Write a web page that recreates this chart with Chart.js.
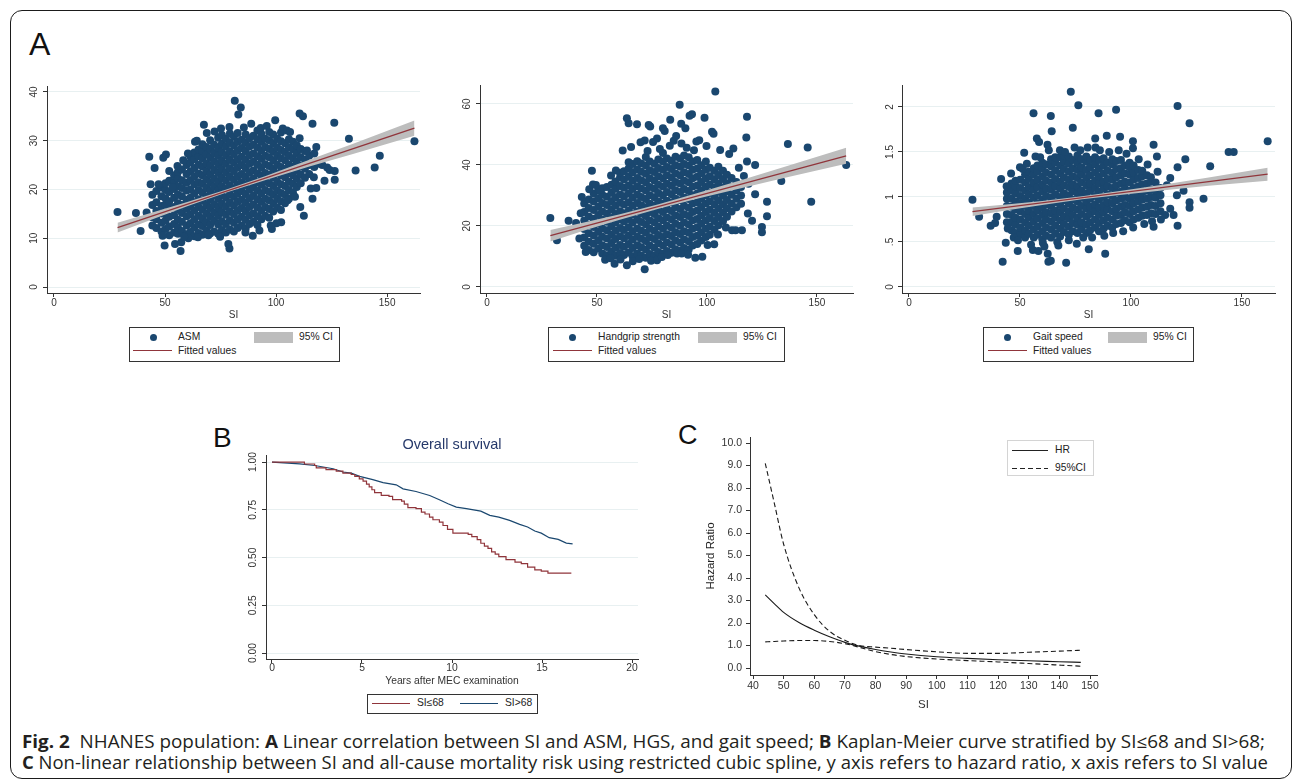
<!DOCTYPE html>
<html>
<head>
<meta charset="utf-8">
<script src="https://cdn.jsdelivr.net/npm/chart.js@4.4.1/dist/chart.umd.min.js"></script>
<style>
  html, body { margin: 0; padding: 0; background: #fff; }
  body { width: 1293px; height: 780px; position: relative; overflow: hidden;
         font-family: "Liberation Sans", Arial, sans-serif; color: #222; }
  #frame { position: absolute; left: 10px; top: 10px; width: 1282px; height: 769px;
           border: 1.5px solid #1b1b1b; border-radius: 12px; box-sizing: border-box; }
  canvas { position: absolute; }
  .tag { position: absolute; line-height: 1; color: #111; }
  .leg { position: absolute; box-sizing: border-box; border: 1px solid #333; background: #fff;
         font-size: 10.3px; color: #222; }
  .leg span { position: absolute; white-space: nowrap; line-height: 12px; }
  .leg i { position: absolute; display: block; }
  .cap { position: absolute; left: 22px; font-family: "Open Sans", sans-serif; font-size: 17.5px;
         line-height: 21px; white-space: nowrap; transform-origin: 0 0; color: #231f20; }
  #kmTitle { position: absolute; left: 352px; top: 435px; width: 200px; text-align: center;
             font-size: 14.5px; line-height: 18px; color: #26396a; }
</style>
</head>
<body>
<div id="frame"></div>

<div class="tag" style="left:29px;top:28px;font-size:32px">A</div>
<div class="tag" style="left:213px;top:424px;font-size:28px">B</div>
<div class="tag" style="left:678px;top:422px;font-size:27px">C</div>

<canvas id="asm"></canvas>
<canvas id="hgs"></canvas>
<canvas id="gait"></canvas>
<canvas id="km"></canvas>
<canvas id="rcs"></canvas>

<div id="kmTitle">Overall survival</div>

<div class="leg" style="left:129px;top:327px;width:211px;height:35px">
  <i style="left:19.5px;top:5.5px;width:7px;height:7px;border-radius:50%;background:#1a476f"></i>
  <span style="left:48px;top:3px">ASM</span>
  <i style="left:124px;top:4px;width:39px;height:11px;background:#bdbdbd"></i>
  <span style="left:169px;top:3px">95% CI</span>
  <i style="left:3px;top:22px;width:39px;height:1.4px;background:#90353b"></i>
  <span style="left:48px;top:17px">Fitted values</span>
</div>
<div class="leg" style="left:548px;top:327px;width:237px;height:35px">
  <i style="left:19.5px;top:5.5px;width:7px;height:7px;border-radius:50%;background:#1a476f"></i>
  <span style="left:49px;top:3px">Handgrip strength</span>
  <i style="left:149px;top:4px;width:39px;height:11px;background:#bdbdbd"></i>
  <span style="left:194px;top:3px">95% CI</span>
  <i style="left:4px;top:22px;width:39px;height:1.4px;background:#90353b"></i>
  <span style="left:49px;top:17px">Fitted values</span>
</div>
<div class="leg" style="left:983px;top:327px;width:211px;height:35px">
  <i style="left:19.5px;top:5.5px;width:7px;height:7px;border-radius:50%;background:#1a476f"></i>
  <span style="left:49px;top:3px">Gait speed</span>
  <i style="left:124px;top:4px;width:39px;height:11px;background:#bdbdbd"></i>
  <span style="left:169px;top:3px">95% CI</span>
  <i style="left:4px;top:22px;width:39px;height:1.4px;background:#90353b"></i>
  <span style="left:49px;top:17px">Fitted values</span>
</div>
<div class="leg" style="left:367px;top:694px;width:171px;height:20px">
  <i style="left:4px;top:8px;width:38px;height:1.3px;background:#90353b"></i>
  <span style="left:49px;top:2px">SI≤68</span>
  <i style="left:92px;top:8px;width:38px;height:1.3px;background:#1a476f"></i>
  <span style="left:137px;top:2px">SI&gt;68</span>
</div>
<div class="leg" style="left:1007px;top:440px;width:87px;height:36px;border-color:#d4d4d4">
  <i style="left:4px;top:8.5px;width:36px;height:1.2px;background:#222"></i>
  <span style="left:47px;top:3px">HR</span>
  <i style="left:4px;top:26.5px;width:36px;height:1.2px;background:repeating-linear-gradient(90deg,#222 0 5px,transparent 5px 8px)"></i>
  <span style="left:47px;top:21px">95%CI</span>
</div>

<div class="cap" data-w="1243" style="top:731px"><b>Fig. 2</b>&nbsp; NHANES population: <b>A</b> Linear correlation between SI and ASM, HGS, and gait speed; <b>B</b> Kaplan-Meier curve stratified by SI≤68 and SI&gt;68;</div>
<div class="cap" data-w="1246" style="top:752px"><b>C</b> Non-linear relationship between SI and all-cause mortality risk using restricted cubic spline, y axis refers to hazard ratio, x axis refers to SI value</div>

<script>
// ---------- data ----------
// Panel A1: SI vs ASM (columns of the dense cloud: [SI, [ASM...]]) + scattered points
const asmCloud = [
  [44.3,[12.6,14.3,16.8,18.9]],
  [46.1,[12.1,13.9,15.6,17.4,19.7]],
  [48.4,[11.4,13.2,15.1,16.6,18.6,20.4]],
  [50.2,[11.9,13.6,14.9,16.9,18.2,19.9,21.3]],
  [51.9,[10.6,12.4,14.4,16.1,17.6,19.5,21.8]],
  [54.1,[11.2,12.9,14.7,16.4,18.3,20.1,21.4,22.9]],
  [55.8,[10.9,12.2,13.8,15.9,17.2,18.9,20.6,22.3,23.6]],
  [57.6,[11.5,13.4,15.2,16.8,18.6,20.3,21.9,24.1]],
  [59.7,[10.8,12.6,14.5,16.1,17.9,19.8,21.4,23.2,25.0]],
  [61.4,[11.3,13.1,14.9,16.6,18.3,20.0,21.9,23.7,25.6,26.8]],
  [63.2,[10.4,12.2,13.9,15.7,17.4,19.2,21.1,22.7,24.4,26.2,27.6]],
  [65.1,[11.1,12.8,14.6,16.4,18.0,19.9,21.5,23.3,25.1,26.8,28.2]],
  [66.8,[10.7,12.5,14.1,15.9,17.7,19.4,21.2,22.9,24.7,26.4,27.9,29.3]],
  [68.6,[11.6,13.3,15.1,16.8,18.5,20.3,22.1,23.8,25.4,27.2,28.7]],
  [70.3,[11.0,12.7,14.4,16.2,17.9,19.7,21.4,23.1,24.9,26.6,28.3,30.1]],
  [72.1,[11.4,13.6,15.3,17.0,18.8,20.6,22.2,24.0,25.8,27.5,29.2]],
  [73.9,[10.9,12.8,14.6,16.3,18.1,19.8,21.6,23.4,25.1,26.9,28.5,30.6]],
  [75.6,[11.7,13.5,15.4,17.1,18.9,20.6,22.4,24.2,25.9,27.7,29.4,31.2]],
  [77.4,[11.2,12.9,14.8,16.5,18.3,20.1,21.8,23.5,25.3,27.0,28.8,30.4]],
  [79.2,[11.8,13.7,15.5,17.3,19.0,20.8,22.6,24.3,26.1,27.8,29.6,31.5]],
  [81.0,[11.4,13.2,15.0,16.7,18.5,20.2,22.0,23.8,25.5,27.3,29.0,30.8]],
  [82.7,[12.1,13.9,15.7,17.5,19.2,21.0,22.7,24.5,26.2,28.0,29.8,31.6]],
  [84.5,[12.6,14.4,16.2,17.9,19.7,21.5,23.2,25.0,26.7,28.5,30.2]],
  [86.3,[12.0,13.8,15.6,17.3,19.1,20.9,22.6,24.4,26.1,27.9,29.6,31.3]],
  [88.0,[12.9,14.7,16.4,18.2,20.0,21.7,23.5,25.3,27.0,28.8,30.5]],
  [89.8,[13.4,15.1,16.9,18.7,20.4,22.2,23.9,25.7,27.4,29.2,31.0]],
  [91.6,[12.7,14.5,16.3,18.0,19.8,21.5,23.3,25.1,26.8,28.6,30.3,32.1]],
  [93.4,[13.9,15.7,17.5,19.2,21.0,22.8,24.5,26.3,28.0,29.8,31.4]],
  [95.1,[14.6,16.4,18.1,19.9,21.6,23.4,25.2,26.9,28.7,30.4]],
  [96.9,[14.2,16.0,17.8,19.5,21.3,23.0,24.8,26.6,28.3,30.1,31.8]],
  [98.7,[15.5,17.2,19.0,20.7,22.5,24.2,26.0,27.8,29.5,31.3]],
  [100.5,[16.3,18.1,19.8,21.6,23.3,25.1,26.9,28.6,30.4]],
  [102.2,[15.8,17.6,19.3,21.1,22.9,24.6,26.4,28.1,29.9,31.7]],
  [104.0,[17.2,19.0,20.7,22.5,24.2,26.0,27.7,29.5]],
  [105.8,[18.1,19.9,21.6,23.4,25.1,26.9,28.6,30.3]],
  [107.6,[19.4,21.2,22.9,24.7,26.4,28.2,29.8]],
  [109.3,[20.5,22.2,24.0,25.7,27.5,29.1]],
  [111.1,[21.3,23.1,24.8,26.6,28.3]],
  [113.0,[22.4,24.3,26.1,27.9]],
  [114.9,[23.2,25.0,26.9]],
  [117.2,[24.6,27.4]]
];
const asmOut = [
  [28.6,15.4],[36.9,15.2],[39.0,11.5],[41.7,15.3],[42.9,26.7],[43.5,21.1],[45.3,24.4],[47.1,21.1],
  [49.2,26.5],[50.4,27.2],[51.9,23.8],[49.8,8.5],[48.9,10.5],[54.5,8.8],[57.0,7.4],[57.3,9.2],
  [53.4,20.5],[55.6,24.8],[58.2,26.0],[60.3,27.4],[63.5,29.8],[64.3,30.0],[67.5,33.3],[68.8,31.6],
  [72.3,31.9],[75.2,32.5],[79.0,32.8],[81.4,38.2],[84.1,36.8],[83.0,35.4],[85.5,32.7],[88.8,33.5],
  [93.1,32.6],[95.8,33.0],[99.6,34.2],[103.0,32.5],[104.9,32.1],[106.3,31.8],[110.6,35.6],[112.1,35.0],
  [110.6,30.5],[113.9,28.0],[116.4,33.5],[118.1,28.7],[119.5,25.3],[120.8,25.0],[121.8,21.8],[123.0,24.5],
  [124.1,24.0],[126.2,33.7],[126.4,23.8],[126.4,22.0],[117.0,22.5],[118.1,20.3],[115.6,20.2],[116.4,18.1],
  [110.9,16.4],[112.5,14.6],[108.5,18.5],[105.2,17.8],[102.3,13.3],[100.2,13.1],[98.1,11.9],[97.6,12.6],
  [92.5,11.6],[89.5,10.5],[86.2,11.2],[79.0,7.9],[78.5,8.8],[74.8,10.3],[69.5,10.6],[64.8,10.2],
  [60.5,10.0],[58.6,10.3],[132.8,30.4],[135.8,23.9],[144.4,24.5],[146.7,26.9],[162.3,29.9]
];
const asmFitX = [28.6, 162.3];
const asmFitY = [12.2, 32.6];
const asmBandX = [28.6, 45, 60, 78, 95, 115, 135, 162.3];
const asmBandLo = [11.2, 14.0, 16.55, 19.45, 21.9, 24.7, 27.35, 31.05];
const asmBandHi = [13.2, 15.4, 17.45, 20.05, 22.7, 26.1, 29.45, 34.15];

// Panel A2: SI vs handgrip strength
const hgsCloud = [
  [44.2,[13.5,16.2,19.0,21.8,24.6,27.4]],
  [46.3,[12.1,14.8,17.6,20.3,23.1,25.9,28.7]],
  [48.5,[11.4,14.2,16.9,19.7,22.4,25.2,28.0,30.6]],
  [50.6,[12.6,15.3,18.1,20.8,23.6,26.3,29.1,31.7]],
  [52.4,[11.0,13.7,16.5,19.2,22.0,24.7,27.5,30.2,32.4]],
  [54.5,[10.4,13.1,15.9,18.6,21.4,24.1,26.9,29.6,32.8]],
  [56.6,[11.6,14.4,17.1,19.9,22.6,25.4,28.1,30.9,33.5]],
  [58.4,[10.2,12.9,15.7,18.4,21.2,23.9,26.7,29.4,32.2,34.6]],
  [60.5,[11.1,13.8,16.6,19.3,22.1,24.8,27.6,30.3,33.1,35.9,37.4]],
  [62.3,[10.5,13.2,16.0,18.7,21.5,24.2,27.0,29.7,32.5,35.2,37.9]],
  [64.4,[11.3,14.1,16.8,19.6,22.3,25.1,27.8,30.6,33.3,36.1,38.8,40.9]],
  [66.2,[10.1,12.8,15.6,18.3,21.1,23.8,26.6,29.3,32.1,34.8,37.6,40.3]],
  [68.3,[11.0,13.7,16.5,19.2,22.0,24.7,27.5,30.2,33.0,35.7,38.5,41.2]],
  [70.1,[10.3,13.0,15.8,18.5,21.3,24.0,26.8,29.5,32.3,35.0,37.8,40.5]],
  [72.2,[9.6,12.3,15.1,17.8,20.6,23.3,26.1,28.8,31.6,34.3,37.1,39.8,42.6]],
  [74.0,[10.8,13.6,16.3,19.1,21.8,24.6,27.3,30.1,32.8,35.6,38.3,41.1]],
  [76.1,[10.2,12.9,15.7,18.4,21.2,23.9,26.7,29.4,32.2,34.9,37.7,40.4]],
  [77.9,[11.5,14.3,17.0,19.8,22.5,25.3,28.0,30.8,33.5,36.3,39.0,41.8]],
  [80.0,[10.9,13.6,16.4,19.1,21.9,24.6,27.4,30.1,32.9,35.6,38.4,41.1,43.9]],
  [81.8,[11.8,14.6,17.3,20.1,22.8,25.6,28.3,31.1,33.8,36.6,39.3,42.1]],
  [83.9,[11.2,13.9,16.7,19.4,22.2,24.9,27.7,30.4,33.2,35.9,38.7,41.4]],
  [85.7,[12.4,15.2,17.9,20.7,23.4,26.2,28.9,31.7,34.4,37.2,39.9,42.7]],
  [87.8,[11.9,14.6,17.4,20.1,22.9,25.6,28.4,31.1,33.9,36.6,39.4,42.1]],
  [89.6,[12.8,15.6,18.3,21.1,23.8,26.6,29.3,32.1,34.8,37.6,40.3,43.1]],
  [91.7,[12.3,15.0,17.8,20.5,23.3,26.0,28.8,31.5,34.3,37.0,39.8,42.5]],
  [93.5,[13.6,16.4,19.1,21.9,24.6,27.4,30.1,32.9,35.6,38.4,41.1]],
  [95.6,[14.1,16.8,19.6,22.3,25.1,27.8,30.6,33.3,36.1,38.8,41.6]],
  [97.4,[15.2,17.9,20.7,23.4,26.2,28.9,31.7,34.4,37.2,39.9]],
  [99.5,[16.4,19.1,21.9,24.6,27.4,30.1,32.9,35.6,38.4,41.1]],
  [101.3,[17.1,19.8,22.6,25.3,28.1,30.8,33.6,36.3,39.1]],
  [103.4,[18.8,21.6,24.3,27.1,29.8,32.6,35.3,38.1]],
  [105.2,[20.2,22.9,25.7,28.4,31.2,33.9,36.7,39.4]],
  [107.3,[21.6,24.4,27.1,29.9,32.6,35.4,38.1]],
  [109.1,[23.0,25.8,28.5,31.3,34.0,36.8]],
  [111.2,[24.7,27.4,30.2,32.9,35.7]],
  [113.4,[26.1,28.9,31.6,34.4]],
  [115.5,[27.3,30.0,32.8]]
];
const hgsOut = [
  [40.5,21.0],[42.6,24.2],[42.0,15.9],[43.1,29.5],[44.9,11.5],[46.5,32.0],[48.2,33.6],[51.2,31.9],
  [53.7,8.9],[56.2,9.4],[58.0,7.6],[60.7,9.0],[63.6,7.1],[66.3,8.4],[69.2,9.2],[71.7,5.8],[74.6,8.6],
  [77.3,8.8],[79.5,9.8],[82.2,10.5],[86.4,11.0],[88.5,11.0],[91.4,10.6],[94.7,9.6],[97.9,9.9],
  [100.3,13.8],[103.3,14.0],[105.0,17.2],[108.6,19.5],[111.4,18.6],[113.0,18.6],[115.9,18.6],
  [118.6,24.1],[120.5,21.7],[125.0,19.7],[125.0,17.9],[127.3,27.9],[127.3,23.2],[121.9,30.4],
  [118.9,33.8],[116.8,36.4],[114.5,39.1],[118.2,41.1],[121.9,40.0],[112.0,45.4],[117.9,49.0],
  [118.2,55.8],[110.1,43.6],[106.0,44.9],[102.3,50.9],[103.0,50.2],[103.8,64.1],[98.9,55.5],
  [96.5,48.1],[93.2,56.6],[92.1,56.1],[90.2,52.0],[88.3,53.5],[87.6,59.7],[84.9,47.9],[83.3,54.8],
  [80.0,52.0],[80.8,51.1],[77.3,48.7],[74.2,52.6],[73.5,53.1],[71.7,48.0],[68.2,53.3],[64.4,53.7],
  [63.6,55.3],[61.7,44.7],[58.6,38.2],[56.4,36.5],[49.5,33.4],[47.7,38.1],[37.1,21.7],[31.8,15.3],
  [28.8,22.6],[133.8,34.7],[136.8,46.9],[145.8,45.7],[147.4,27.9],[163.3,40.0],[65.5,45.9],
  [69.8,47.4],[75.5,47.5],[86.0,49.5],[95.2,47.7],[99.8,46.2],[78.6,45.2],[83.1,46.3],[90.8,45.6],
  [94.1,44.8],[88.4,47.0],[73.0,44.6]
];
const hgsFitX = [28.8, 163.3];
const hgsFitY = [16.8, 43.0];
const hgsBandX = [28.8, 45, 60, 78, 95, 115, 135, 163.3];
const hgsBandLo = [14.9, 18.66, 21.98, 25.68, 28.8, 32.3, 35.69, 40.4];
const hgsBandHi = [18.7, 21.26, 23.78, 27.08, 30.6, 34.9, 39.29, 45.6];

// Panel A3: SI vs gait speed
const gaitCloud = [
  [44.1,[0.72,0.81,0.90,0.98,1.05]],
  [46.2,[0.63,0.72,0.80,0.89,0.98,1.07,1.15]],
  [48.0,[0.60,0.69,0.77,0.86,0.95,1.04,1.12,1.18]],
  [50.1,[0.58,0.66,0.75,0.84,0.93,1.01,1.10,1.19]],
  [52.3,[0.55,0.63,0.72,0.81,0.90,0.98,1.07,1.16,1.25]],
  [54.0,[0.59,0.68,0.77,0.85,0.94,1.03,1.11,1.20,1.28]],
  [56.2,[0.55,0.64,0.73,0.81,0.90,0.99,1.08,1.16,1.25,1.32]],
  [57.9,[0.58,0.67,0.76,0.85,0.93,1.02,1.11,1.19,1.28,1.35]],
  [60.1,[0.53,0.62,0.71,0.80,0.88,0.97,1.06,1.14,1.23,1.32,1.38]],
  [61.8,[0.57,0.66,0.75,0.83,0.92,1.01,1.09,1.18,1.27,1.36]],
  [64.0,[0.55,0.64,0.73,0.82,0.90,0.99,1.08,1.16,1.25,1.34,1.42]],
  [65.9,[0.59,0.68,0.77,0.85,0.94,1.03,1.12,1.20,1.29,1.38,1.44]],
  [68.1,[0.56,0.65,0.74,0.83,0.91,1.00,1.09,1.17,1.26,1.35,1.44]],
  [69.8,[0.61,0.70,0.78,0.87,0.96,1.04,1.13,1.22,1.31,1.39,1.46]],
  [72.0,[0.58,0.67,0.76,0.84,0.93,1.02,1.11,1.19,1.28,1.37,1.45]],
  [73.8,[0.62,0.71,0.80,0.88,0.97,1.06,1.14,1.23,1.32,1.41]],
  [75.9,[0.60,0.69,0.77,0.86,0.95,1.04,1.12,1.21,1.30,1.38,1.46]],
  [77.7,[0.64,0.72,0.81,0.90,0.99,1.07,1.16,1.25,1.33,1.42]],
  [79.9,[0.60,0.69,0.78,0.87,0.95,1.04,1.13,1.21,1.30,1.39,1.45]],
  [81.6,[0.63,0.72,0.81,0.89,0.98,1.07,1.15,1.24,1.33,1.41]],
  [83.8,[0.66,0.75,0.84,0.92,1.01,1.10,1.18,1.27,1.36,1.44]],
  [85.6,[0.62,0.71,0.80,0.88,0.97,1.06,1.15,1.23,1.32,1.41]],
  [87.7,[0.65,0.74,0.83,0.91,1.00,1.09,1.17,1.26,1.35,1.43]],
  [89.5,[0.68,0.77,0.86,0.94,1.03,1.12,1.20,1.29,1.38]],
  [91.6,[0.66,0.75,0.84,0.93,1.01,1.10,1.19,1.27,1.36,1.42]],
  [93.4,[0.70,0.79,0.87,0.96,1.05,1.13,1.22,1.31,1.40]],
  [95.5,[0.71,0.80,0.89,0.98,1.06,1.15,1.24,1.32,1.41]],
  [97.3,[0.74,0.83,0.91,1.00,1.09,1.17,1.26,1.35]],
  [99.4,[0.72,0.81,0.90,0.98,1.07,1.16,1.25,1.33,1.38]],
  [101.2,[0.75,0.84,0.93,1.01,1.10,1.19,1.27,1.35]],
  [103.3,[0.77,0.86,0.95,1.03,1.12,1.21,1.30]],
  [105.1,[0.79,0.88,0.97,1.05,1.14,1.23,1.29]],
  [107.2,[0.80,0.89,0.98,1.07,1.15,1.24]],
  [109.0,[0.82,0.91,1.00,1.08,1.17,1.22]],
  [111.1,[0.81,0.90,0.99,1.07,1.16]],
  [113.3,[0.84,0.93,1.02,1.10]]
];
const gaitOut = [
  [28.6,0.97],[31.6,0.78],[36.8,0.68],[38.8,0.71],[39.5,0.78],[41.5,1.20],[42.2,0.28],[43.6,0.49],
  [44.0,1.12],[46.0,1.26],[44.5,0.65],[49.0,0.40],[50.0,1.33],[51.9,1.49],[56.1,1.93],[57.6,1.65],
  [58.6,1.61],[55.8,0.41],[58.3,0.40],[60.3,0.49],[62.5,0.37],[62.8,0.28],[63.9,0.29],[63.9,1.90],
  [64.3,1.73],[62.4,1.58],[67.3,0.46],[70.8,0.27],[72.9,2.17],[73.8,1.77],[76.3,2.02],[75.6,0.48],
  [81.0,0.42],[85.4,1.93],[83.9,1.65],[89.1,1.68],[88.4,0.37],[93.3,1.97],[95.1,1.67],[100.9,1.62],
  [100.9,1.54],[110.2,1.58],[111.7,1.45],[110.2,0.67],[121.0,2.01],[126.4,1.82],[124.5,1.42],
  [121.0,1.33],[117.7,1.21],[116.2,1.13],[120.7,1.02],[123.7,1.07],[126.4,0.94],[126.4,0.88],
  [121.0,0.68],[119.2,0.80],[117.7,0.87],[115.4,0.80],[132.7,0.98],[135.7,1.34],[144.0,1.50],
  [146.3,1.50],[161.6,1.62],[47.2,0.55],[49.1,0.52],[51.3,1.31],[53.1,1.37],[55.0,0.47],[57.0,1.45],
  [59.1,1.44],[61.0,0.45],[63.0,1.52],[66.8,0.50],[68.0,1.52],[70.3,1.50],[72.0,0.52],[74.6,1.55],
  [77.2,1.52],[78.5,0.55],[80.5,1.55],[82.5,0.55],[84.0,1.55],[86.0,1.52],[88.0,0.57],[90.2,1.50],
  [92.0,0.60],[94.5,1.52],[96.5,0.62],[98.0,1.48],[101.0,0.66],[103.5,1.42],[106.0,0.70],[107.5,1.36],
  [109.5,0.73],[112.0,1.28],[113.5,0.75]
];
const gaitFitX = [28.6, 161.6];
const gaitFitY = [0.836, 1.253];
const gaitBandX = [28.6, 45, 60, 78, 95, 115, 135, 161.6];
const gaitBandLo = [0.788, 0.855, 0.912, 0.975, 1.022, 1.075, 1.124, 1.181];
const gaitBandHi = [0.884, 0.919, 0.956, 1.007, 1.066, 1.139, 1.216, 1.325];

const siTicks = [0, 50, 100, 150];
const asmTicks = [0, 10, 20, 30, 40];
const hgsTicks = [0, 20, 40, 60];
const gaitTicks = [0, 0.5, 1, 1.5, 2];

// Panel B: Kaplan-Meier survival
const kmLowX = [0, 1.8, 2.37, 2.46, 3.0, 3.57, 3.94, 4.4, 4.6, 4.85, 5.06, 5.25, 5.4, 5.55, 5.7, 6.07, 6.5,
  6.7, 7.2, 7.35, 7.55, 8.0, 8.3, 8.5, 8.75, 8.94, 9.3, 9.5, 9.75, 10.05, 10.9, 11.1, 11.4, 11.6, 11.8,
  12.0, 12.2, 12.4, 12.6, 13.0, 13.5, 13.85, 14.2, 14.6, 14.96, 15.33, 16.63];
const kmLowY = [1, 0.99, 0.982, 0.97, 0.96, 0.953, 0.942, 0.935, 0.925, 0.912, 0.9, 0.885, 0.87, 0.855,
  0.84, 0.826, 0.82, 0.803, 0.796, 0.78, 0.762, 0.756, 0.738, 0.728, 0.712, 0.698, 0.686, 0.668, 0.648,
  0.628, 0.621, 0.61, 0.594, 0.575, 0.56, 0.548, 0.53, 0.518, 0.505, 0.489, 0.476, 0.468, 0.45, 0.436,
  0.429, 0.419, 0.419];
const kmHighX = [0, 1.54, 2.37, 3.4, 3.94, 4.4, 4.87, 5.6, 6.17, 6.9, 7.28, 8.0, 8.76, 9.3, 9.78, 10.24,
  10.8, 11.6, 12.1, 12.6, 13.2, 13.76, 14.2, 14.6, 14.96, 15.4, 15.9, 16.35, 16.7];
const kmHighY = [1, 0.991, 0.982, 0.965, 0.948, 0.942, 0.925, 0.908, 0.892, 0.881, 0.86, 0.846, 0.825,
  0.803, 0.782, 0.764, 0.756, 0.743, 0.721, 0.712, 0.695, 0.674, 0.66, 0.639, 0.628, 0.604, 0.595,
  0.576, 0.572];
const yearTicks = [0, 5, 10, 15, 20];
const survTicks = [0, 0.25, 0.5, 0.75, 1];

// Panel C: restricted cubic spline
const rcsSI = [44, 47, 50, 55, 60, 65, 70, 75, 80, 85, 90, 100, 110, 120, 130, 140, 147];
const rcsHR = [3.25, 2.85, 2.47, 2.02, 1.68, 1.39, 1.14, 0.96, 0.82, 0.71, 0.62, 0.50, 0.43, 0.37, 0.32, 0.28, 0.25];
const rcsUp = [9.1, 7.3, 5.5, 3.56, 2.37, 1.63, 1.23, 0.99, 0.93, 0.88, 0.82, 0.72, 0.65, 0.65, 0.70, 0.75, 0.79];
const rcsLo = [1.16, 1.18, 1.20, 1.22, 1.22, 1.18, 1.08, 0.91, 0.73, 0.60, 0.51, 0.40, 0.33, 0.27, 0.20, 0.13, 0.08];
const rcsXTicks = [40, 50, 60, 70, 80, 90, 100, 110, 120, 130, 140, 150];
const rcsYTicks = [0, 1, 2, 3, 4, 5, 6, 7, 8, 9, 10];

// ---------- helpers ----------
const NAVY = '#1a476f', MAROON = '#90353b', BAND = '#bdbdbd', GRID = '#e8f0f1', AXIS = '#333';
Chart.defaults.font.family = '"Liberation Sans", Arial, Helvetica, sans-serif';
Chart.defaults.color = '#333';
Chart.defaults.animation = false;

const pairs = (xs, ys) => xs.map((x, i) => ({ x, y: ys[i] }));
function cloud(cols, extra) {
  const pts = [];
  cols.forEach(([x, ys]) => ys.forEach(y => pts.push({ x, y })));
  extra.forEach(([x, y]) => pts.push({ x, y }));
  return pts;
}
const stata = v => (v === 0 ? '0' : String(v).replace(/^0\./, '.'));

// box = [left, top, right, bottom] of the plot area on the page, m = [l, t, r, b] margins
function place(id, box, m) {
  const cv = document.getElementById(id);
  cv.width = box[2] - box[0] + m[0] + m[2];
  cv.height = box[3] - box[1] + m[1] + m[3];
  cv.style.left = (box[0] - m[0]) + 'px';
  cv.style.top = (box[1] - m[1]) + 'px';
  return cv;
}

function xAxis(min, max, ticks, o) {
  return {
    type: 'linear', position: 'bottom', min, max, bounds: 'data',
    afterBuildTicks: s => { s.ticks = ticks.map(v => ({ value: v })); },
    afterFit: s => { s.height = o.h; },
    grid: { drawOnChartArea: false, drawTicks: true, tickLength: 4, tickColor: AXIS },
    border: { display: true, color: AXIS, width: 1 },
    ticks: { autoSkip: false, maxRotation: 0, minRotation: 0, padding: o.pad,
             font: { size: o.fs }, color: '#333', callback: o.fmt },
    title: { display: true, text: o.title, padding: { top: 0, bottom: 0 },
             font: { size: o.tfs }, color: '#333' }
  };
}
function yAxis(min, max, ticks, o) {
  return {
    type: 'linear', position: 'left', min, max, bounds: 'data',
    afterBuildTicks: s => { s.ticks = ticks.map(v => ({ value: v })); },
    afterFit: s => { s.width = o.w; },
    grid: { drawOnChartArea: o.grid, color: GRID, lineWidth: 1, drawTicks: true, tickLength: 4, tickColor: AXIS },
    border: { display: true, color: AXIS, width: 1 },
    ticks: { autoSkip: false, minRotation: o.rot, maxRotation: o.rot,
             crossAlign: o.rot ? 'center' : 'near', padding: o.pad,
             font: { size: o.fs }, color: '#333', callback: o.fmt },
    title: o.title ? { display: true, text: o.title, padding: { top: o.tpad, bottom: 0 },
                       font: { size: o.tfs }, color: '#222' } : { display: false }
  };
}
function baseOpts(m, scales) {
  return {
    responsive: false, devicePixelRatio: 1, animation: false, events: [],
    layout: { padding: { left: 0, top: m[1], right: m[2], bottom: 0 } },
    plugins: { legend: { display: false }, tooltip: { enabled: false } },
    scales
  };
}

function scatterPanel(id, box, xr, yr, yTicks, pts, fitX, fitY, bandX, bandLo, bandHi, yPad) {
  const m = [30, 14, 14, 28];
  const cv = place(id, box, m);
  new Chart(cv, {
    type: 'line',
    data: {
      datasets: [
        { data: pairs(fitX, fitY), borderColor: MAROON, borderWidth: 1.3, pointRadius: 0, fill: false, tension: 0 },
        { data: pairs(bandX, bandHi), borderWidth: 0, borderColor: 'rgba(0,0,0,0)', pointRadius: 0,
          backgroundColor: BAND, fill: '+1', tension: 0 },
        { data: pairs(bandX, bandLo), borderWidth: 0, borderColor: 'rgba(0,0,0,0)', pointRadius: 0, fill: false, tension: 0 },
        { data: pts, showLine: false, pointRadius: 4, pointBorderWidth: 0,
          pointBackgroundColor: NAVY, backgroundColor: NAVY, borderColor: NAVY }
      ]
    },
    options: baseOpts(m, {
      x: xAxis(xr[0], xr[1], siTicks, { h: m[3], pad: 0.5, fs: 10, fmt: v => String(v), title: 'SI', tfs: 10 }),
      y: yAxis(yr[0], yr[1], yTicks, { w: m[0], grid: true, rot: 90, pad: yPad, fs: 10, fmt: stata })
    })
  });
}

// ---------- panel A ----------
scatterPanel('asm', [47, 86, 420, 293], [-3.15, 164.8], [-1.23, 41.23], asmTicks,
  cloud(asmCloud, asmOut), asmFitX, asmFitY, asmBandX, asmBandLo, asmBandHi, 3.4);
scatterPanel('hgs', [480, 85, 853, 293], [-3.18, 166.4], [-1.97, 66.2], hgsTicks,
  cloud(hgsCloud, hgsOut), hgsFitX, hgsFitY, hgsBandX, hgsBandLo, hgsBandHi, 3.4);
scatterPanel('gait', [902, 85, 1275, 293], [-3.15, 164.9], [-0.067, 2.244], gaitTicks,
  cloud(gaitCloud, gaitOut), gaitFitX, gaitFitY, gaitBandX, gaitBandLo, gaitBandHi, 1);

// ---------- panel B ----------
(function () {
  const m = [40, 14, 40, 28];
  const cv = place('km', [266, 455, 638, 659], m);
  new Chart(cv, {
    type: 'line',
    data: {
      datasets: [
        { data: pairs(kmLowX, kmLowY), borderColor: MAROON, borderWidth: 1.2, pointRadius: 0, stepped: 'before', fill: false },
        { data: pairs(kmHighX, kmHighY), borderColor: NAVY, borderWidth: 1.2, pointRadius: 0, tension: 0, fill: false }
      ]
    },
    options: baseOpts(m, {
      x: xAxis(-0.333, 20.333, yearTicks, { h: m[3], pad: -1, fs: 10.3, fmt: v => String(v),
                                             title: 'Years after MEC examination', tfs: 10.3 }),
      y: yAxis(-0.031, 1.037, survTicks, { w: m[0], grid: true, rot: 90, pad: -0.8, fs: 10.3, fmt: v => v.toFixed(2) })
    })
  });
})();

// ---------- panel C ----------
(function () {
  const m = [50, 14, 15, 37];
  const cv = place('rcs', [750, 437, 1097, 675], m);
  const line = (ys, dash) => ({ data: pairs(rcsSI, ys), borderColor: '#1a1a1a', borderWidth: 1.1,
    borderDash: dash, pointRadius: 0, fill: false, tension: 0.4, cubicInterpolationMode: 'monotone' });
  new Chart(cv, {
    type: 'line',
    data: { datasets: [line(rcsHR, []), line(rcsUp, [5, 3]), line(rcsLo, [5, 3])] },
    options: baseOpts(m, {
      x: xAxis(39.02, 152.28, rcsXTicks, { h: m[3], pad: 0.7, fs: 10.5, fmt: v => String(v), title: 'SI', tfs: 11.5 }),
      y: yAxis(-0.311, 10.267, rcsYTicks, { w: m[0], grid: false, rot: 0, pad: 4, fs: 10.5,
                                             fmt: v => v.toFixed(1), title: 'Hazard Ratio', tfs: 11.5, tpad: 4 })
    })
  });
})();

// ---------- caption width ----------
document.querySelectorAll('.cap').forEach(el => {
  const w = el.getBoundingClientRect().width;
  el.style.transform = 'scaleX(' + (Number(el.dataset.w) / w) + ')';
});
</script>
</body>
</html>
